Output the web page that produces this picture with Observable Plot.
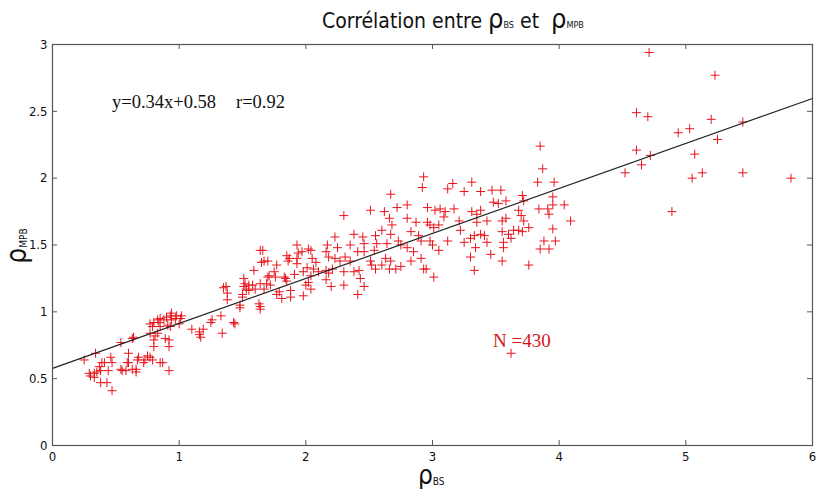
<!DOCTYPE html>
<html>
<head>
<meta charset="utf-8">
<script src="https://cdn.jsdelivr.net/npm/d3@7"></script>
<script src="https://cdn.jsdelivr.net/npm/@observablehq/plot@0.6"></script>
<style>
  html, body { margin: 0; padding: 0; background: #fff; }
  #wrap { position: relative; width: 818px; height: 489px; overflow: hidden; }
  .ov { position: absolute; white-space: nowrap; }
  .sans { font-family: "Liberation Sans Narrow", "Arial Narrow", "DejaVu Sans Condensed", "Liberation Sans", sans-serif; font-stretch: condensed; color: #111; }
  .serif { font-family: "Liberation Serif", "Times New Roman", serif; }
  sub { font-size: 40%; vertical-align: baseline; position: relative; top: 0.05em; }
</style>
</head>
<body>
<div id="wrap"></div>
<script>
// Axis ticks
const xTicks = [0, 1, 2, 3, 4, 5, 6];
const yTicks = [0, 0.5, 1, 1.5, 2, 2.5, 3];

// Regression line endpoints (rho_BS, rho_MPB)
const fitBS = [0, 6];
const fitMPB = [0.577, 2.596];

// Scatter points [rho_BS, rho_MPB], grouped by region of the cloud
const ptsLow = [
  [0.25,0.64],[0.29,0.54],[0.30,0.52],[0.33,0.51],[0.33,0.54],[0.35,0.55],[0.37,0.59],[0.38,0.56],
  [0.39,0.62],[0.34,0.69],[0.41,0.62],[0.43,0.47],[0.38,0.47],[0.44,0.56],[0.46,0.66],[0.47,0.62],
  [0.47,0.41],[0.54,0.77],[0.54,0.57],[0.55,0.56],[0.58,0.56],[0.59,0.62],[0.60,0.69],[0.60,0.62],
  [0.63,0.80],[0.63,0.57],[0.66,0.57],[0.66,0.55],[0.67,0.64],[0.68,0.66],[0.64,0.81],[0.72,0.62],
  [0.73,0.64],[0.75,0.67],[0.77,0.66],[0.79,0.64],[0.77,0.84],[0.79,0.89],[0.80,0.79],[0.80,0.74],
  [0.81,0.82],[0.83,0.84],[0.77,0.91],[0.80,0.92],[0.83,0.94],[0.84,0.92],[0.85,0.95],[0.85,0.89],
  [0.85,0.62],[0.87,0.62],[0.89,0.80],[0.92,0.79],[0.92,0.74],[0.92,0.56],[0.93,0.89],[0.91,0.90],
  [0.88,0.94],[0.90,0.96],[0.93,0.97],[0.94,0.99],[0.94,0.94],[0.97,0.95],[0.98,0.97],[1.01,0.95],
  [1.02,0.97],[1.00,0.91]
];
const ptsMid = [
  [1.64,1.46],[1.67,1.38],[1.65,1.37],[1.51,1.25],[1.52,1.21],[1.37,1.19],[1.38,1.14],[1.50,1.11],
  [1.48,1.05],[1.63,1.06],[1.64,1.04],[1.59,1.31],[1.71,1.27],[1.72,1.20],[1.77,1.35],[1.79,1.15],
  [1.85,1.42],[1.87,1.40],[1.84,1.25],[1.88,1.11],[1.93,1.50],[1.93,1.40],[1.97,1.45],[2.00,1.20],
  [1.98,1.12],[2.02,1.47],[2.04,1.27],[2.04,1.17],[2.08,1.37],[2.10,1.30],[1.43,0.92],[1.33,0.97],
  [1.25,0.92],[1.19,0.87],[1.16,0.85],[1.10,0.87],[1.16,0.83],[1.17,0.81],[1.26,0.94],[1.34,0.84],
  [1.44,0.91],[1.35,1.18],[1.38,1.09],[1.48,1.03],[1.50,1.13],[1.51,1.19],[1.53,1.17],[1.55,1.20],
  [1.55,1.16],[1.58,1.20],[1.60,1.17],[1.64,1.02],[1.64,1.21],[1.67,1.17],[1.69,1.21],[1.70,1.26],
  [1.66,1.46],[1.70,1.38],[1.75,1.30],[1.76,1.26],[1.77,1.13],[1.81,1.10],[1.83,1.26],[1.85,1.23],
  [1.86,1.38],[1.88,1.16],[1.91,1.28],[1.94,1.44],[1.93,1.36],[1.98,1.30],[2.01,1.33],[2.04,1.46],
  [2.05,1.40],[2.02,1.22],[2.06,1.32]
];
const ptsUpperMid = [
  [2.92,1.93],[2.67,1.88],[2.30,1.72],[2.51,1.76],[2.62,1.75],[2.72,1.78],[2.80,1.80],[2.66,1.70],
  [2.68,1.65],[2.80,1.70],[2.87,1.67],[2.96,1.78],[3.02,1.76],[3.06,1.77],[2.96,1.67],[2.98,1.65],
  [3.01,1.63],[3.05,1.65],[2.38,1.58],[2.45,1.56],[2.55,1.57],[2.60,1.61],[2.67,1.58],[2.83,1.60],
  [2.89,1.57],[2.23,1.56],[2.17,1.50],[2.25,1.48],[2.35,1.50],[2.46,1.51],[2.54,1.46],[2.56,1.51],
  [2.64,1.51],[2.73,1.53],[2.75,1.50],[2.80,1.48],[2.85,1.45],[2.91,1.53],[2.98,1.53],[3.00,1.50],
  [3.05,1.46],[2.16,1.45],[2.18,1.41],[2.23,1.40],[2.27,1.38],[2.31,1.41],[2.35,1.38],[2.41,1.45],
  [2.46,1.45],[2.51,1.38],[2.52,1.35],[2.55,1.32],[2.60,1.35],[2.66,1.32],[2.67,1.38],[2.71,1.32],
  [2.75,1.34],[2.63,1.40],[2.83,1.38],[2.91,1.40],[2.95,1.32],[2.16,1.31],[2.18,1.29],[2.21,1.32],
  [2.30,1.30],[2.38,1.30],[2.42,1.31],[2.43,1.25],[2.16,1.24],[2.20,1.19],[2.30,1.20],[2.46,1.19],
  [3.01,1.26],[2.93,1.32],[2.41,1.13],[2.93,2.01]
];
const ptsUpper = [
  [3.87,2.07],[3.83,1.97],[3.96,1.97],[3.16,1.96],[3.31,1.97],[3.12,1.92],[3.25,1.90],[3.38,1.90],
  [3.47,1.91],[3.54,1.91],[3.48,1.82],[3.52,1.81],[3.58,1.83],[3.71,1.87],[3.72,1.83],[3.95,1.86],
  [3.95,1.80],[4.04,1.80],[3.84,1.77],[3.91,1.77],[3.92,1.73],[4.09,1.68],[3.17,1.77],[3.10,1.75],
  [3.09,1.71],[3.31,1.75],[3.35,1.73],[3.38,1.76],[3.35,1.67],[3.21,1.68],[3.43,1.68],[3.55,1.68],
  [3.58,1.70],[3.68,1.76],[3.70,1.72],[3.72,1.68],[3.76,1.63],[3.68,1.61],[3.71,1.60],[3.64,1.61],
  [3.60,1.58],[3.55,1.60],[3.22,1.61],[3.38,1.58],[3.41,1.57],[3.33,1.57],[3.30,1.55],[3.34,1.48],
  [3.25,1.52],[3.12,1.53],[3.43,1.52],[3.56,1.52],[3.62,1.55],[3.95,1.62],[3.88,1.53],[3.92,1.47],
  [3.97,1.53],[3.85,1.47],[3.56,1.48],[3.46,1.43],[3.30,1.41],[3.55,1.38],[3.76,1.35],[3.33,1.31],
  [3.85,2.24],[3.62,0.69]
];
const ptsHigh = [
  [4.71,2.94],[5.23,2.77],[4.61,2.49],[4.70,2.46],[5.20,2.44],[5.45,2.42],[4.94,2.34],[5.03,2.37],
  [5.25,2.29],[4.61,2.21],[4.72,2.17],[5.07,2.18],[4.65,2.10],[4.52,2.04],[5.05,2.00],[5.13,2.04],
  [5.45,2.04],[5.83,2.00],[4.89,1.75]
];

const points = [...ptsLow, ...ptsMid, ...ptsUpperMid, ...ptsUpper, ...ptsHigh]
  .map(([bs, mpb]) => ({bs, mpb}));

const plusSymbol = {
  draw(ctx, size) {
    const r = Math.sqrt(size / Math.PI);
    ctx.moveTo(-r, 0); ctx.lineTo(r, 0);
    ctx.moveTo(0, -r); ctx.lineTo(0, r);
  }
};

const W = 818, H = 489, mL = 52, mR = 6, mT = 44, mB = 44;
const innerW = W - mL - mR, innerH = H - mT - mB;
const tickLen = 5;
const axisColor = "#555";
const fmt = d => String(d);

const chart = Plot.plot({
  width: W, height: H,
  marginLeft: mL, marginRight: mR, marginTop: mT, marginBottom: mB,
  style: {fontFamily: '"Liberation Sans Narrow", "Arial Narrow", "DejaVu Sans Condensed", "Liberation Sans", sans-serif', fontSize: "13px", color: "#111", background: "#fff", overflow: "visible"},
  x: {domain: [0, 6], label: null},
  y: {domain: [0, 3], label: null},
  marks: [
    Plot.dot(points, {x: "bs", y: "mpb", symbol: plusSymbol, r: 4.5, stroke: "#e8141c", strokeWidth: 1, fill: "none"}),
    Plot.line(fitBS.map((b, i) => ({bs: b, mpb: fitMPB[i]})), {x: "bs", y: "mpb", stroke: "#222", strokeWidth: 1.2}),
    Plot.frame({stroke: axisColor, strokeWidth: 1.2}),
    Plot.tickX(xTicks, {x: d => d, insetTop: innerH - tickLen, stroke: axisColor}),
    Plot.tickX(xTicks, {x: d => d, insetBottom: innerH - tickLen, stroke: axisColor}),
    Plot.tickY(yTicks, {y: d => d, insetRight: innerW - tickLen, stroke: axisColor}),
    Plot.tickY(yTicks, {y: d => d, insetLeft: innerW - tickLen, stroke: axisColor}),
    Plot.axisX(xTicks, {anchor: "bottom", tickFormat: fmt, tickSize: 0, tickPadding: 6, label: null, fontSize: 13}),
    Plot.axisY(yTicks, {anchor: "left", tickFormat: fmt, tickSize: 0, tickPadding: 5, label: null, fontSize: 13})
  ]
});

const wrap = document.getElementById("wrap");
wrap.appendChild(chart);

function overlay(html, cls, css) {
  const d = document.createElement("div");
  d.className = "ov " + cls;
  d.innerHTML = html;
  Object.assign(d.style, css);
  wrap.appendChild(d);
  return d;
}

overlay('Corrélation entre <span style="font-size:27px">ρ</span><sub style="font-size:9px">BS</sub> et&nbsp; <span style="font-size:27px">ρ</span><sub style="font-size:9px">MPB</sub>',
  "sans", {left: "322px", top: "4px", fontSize: "21px", lineHeight: "30px"});

overlay('y=0.34x+0.58', "serif",
  {left: "112px", top: "92px", fontSize: "18.5px", color: "#111"});
overlay('r=0.92', "serif",
  {left: "236px", top: "92px", fontSize: "18.5px", color: "#111"});

overlay('N =430', "serif",
  {left: "493px", top: "330px", fontSize: "19px", color: "#d4141a"});

overlay('<span style="font-size:26px">ρ</span><sub style="font-size:10px">BS</sub>', "sans",
  {left: "418px", top: "461px", lineHeight: "28px"});

overlay('<span style="font-size:28px">ρ</span><sub style="font-size:10px">MPB</sub>', "sans",
  {left: "20px", top: "246px", lineHeight: "30px", transform: "translate(-50%,-50%) rotate(-90deg)", transformOrigin: "center"});
</script>
</body>
</html>
